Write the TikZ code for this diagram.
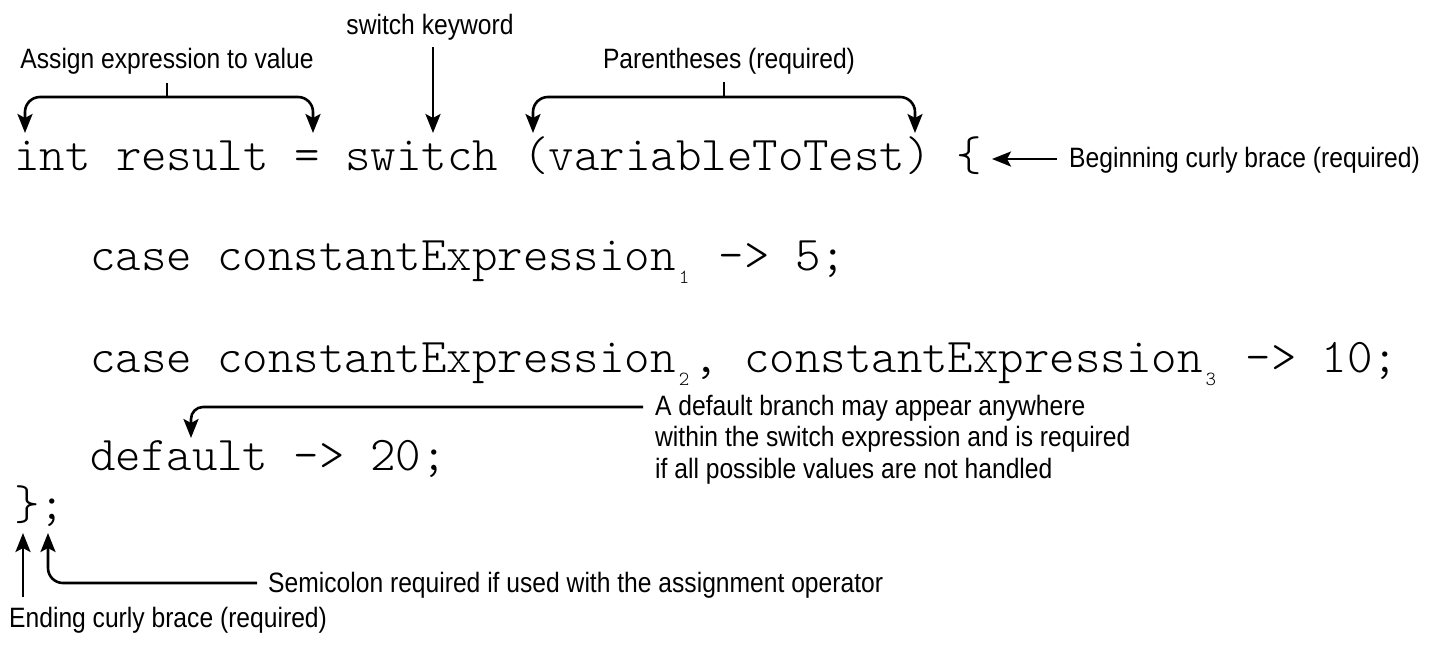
\documentclass[tikz,border=0pt]{standalone}
\usepackage{fontspec}
\setmainfont{Liberation Sans}[FakeStretch=0.88]
\newfontfamily\codefont{Latin Modern Mono Light}
\usetikzlibrary{arrows.meta}
\usetikzlibrary{positioning}
\tikzset{code/.style = {anchor=base west, inner sep=0pt,
                        font=\codefont\fontsize{48.5}{48}\selectfont},
         note/.style = {inner sep=0pt, font=\fontsize{28}{31.5}\selectfont},
         pointer/.style = {-{Stealth[length=19pt,width=15pt,inset=4pt]},
                           line width=2.6pt, rounded corners=15pt},
         twoway/.style = {pointer,
                          {Stealth[length=19pt,width=15pt,inset=4pt]}-{Stealth[length=19pt,width=15pt,inset=4pt]}},
         stub/.style = {line width=2.6pt}}
\newcommand{\subidx}[1]{\kern3pt\raisebox{-13pt}{\fontsize{20}{20}\selectfont #1}\kern4pt}

\begin{document}
\begin{tikzpicture}[x=1pt, y=-1pt]
      \useasboundingbox (0,0) rectangle (1436,646);
      % the code
      \node [code] (head) at (14,170) {int result = switch (variableToTest) \{};
      \node [code] (caseone) at (90,270) {case constantExpression\subidx{1}\ -> 5;};
      \node [code] (casetwo) at (90,372) {case constantExpression\subidx{2}, constantExpression\subidx{3}\ -> 10;};
      \node [code] (dflt) at (90,470) {default -> 20;};
      \node [code] (tail) at (14,519) {\};};
      % labels
      \node [note, anchor=base] (assignnote) at (167,68) {Assign expression to value};
      \node [note, anchor=base] (kwnote) at (430,34) {switch keyword};
      \node [note, anchor=base] (parnote) at (729,68) {Parentheses (required)};
      \node [note, anchor=base west] (bracenote) at (1069,167) {Beginning curly brace (required)};
      \node [note, anchor=north west, align=left] (dfltnote) at (655,395)
            {A default branch may appear anywhere\\within the switch expression and is required\\if all possible values are not handled};
      \node [note, anchor=base west] (semnote) at (268,592) {Semicolon required if used with the assignment operator};
      \node [note, anchor=base west] (endnote) at (9,627) {Ending curly brace (required)};
      % arrow tips
      \coordinate (assignL) at (25,133);
      \coordinate (assignR) at (313,133);
      \coordinate (kwtip) at (433,133);
      \coordinate (parL) at (533,133);
      \coordinate (parR) at (915,133);
      \coordinate (bracetip) at (992,159);
      \coordinate (dflttip) at (191,438);
      \coordinate (semtip) at (48,533);
      \coordinate (endtip) at (23,533);
      % arrows
      \draw [twoway] (assignL) |- (167,97) -| (assignR);
      \draw [stub] (167,97) -- ++(0,-14);
      \draw [pointer] (kwtip |- kwnote.south) ++(0,7) -- (kwtip);
      \draw [twoway] (parL) |- (724,97) -| (parR);
      \draw [stub] (724,97) -- ++(0,-15);
      \draw [pointer] (bracenote.base west) ++(-12,-8) -- (bracetip);
      \draw [pointer, rounded corners=12pt] (dfltnote.north west) ++(-12,12) -| (dflttip);
      \draw [pointer] (semnote.base west) ++(-11,-9) -| (semtip);
      \draw [pointer] (endnote.base west) ++(14,-30) -- (endtip);
    \end{tikzpicture}
\end{document}
